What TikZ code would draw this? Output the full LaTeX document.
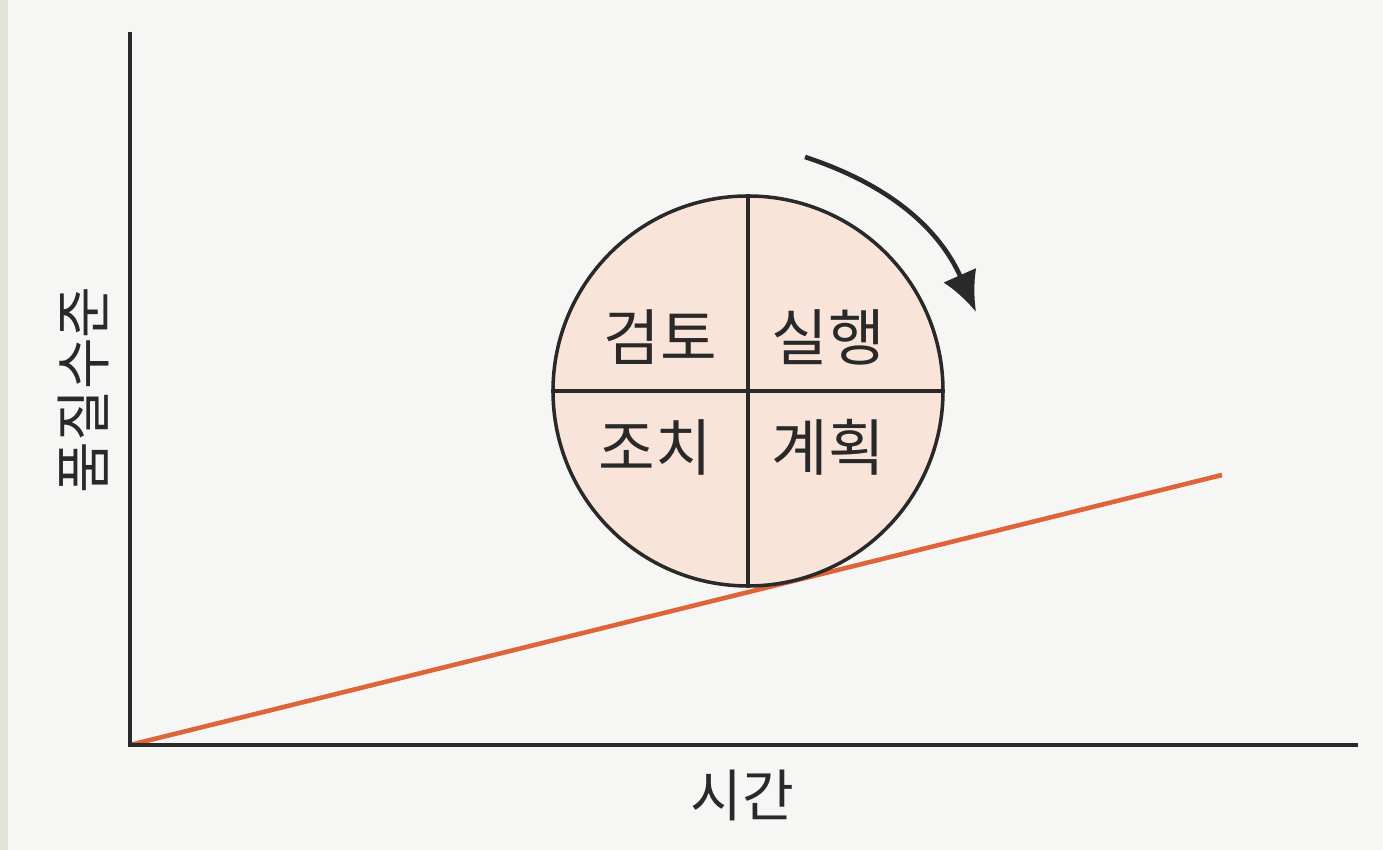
\documentclass[tikz,border=0pt]{standalone}
\usepackage{fontspec}
\setmainfont{Noto Sans CJK KR}
\usepackage{tikz}
\usetikzlibrary{arrows.meta}
\definecolor{hexcolor0xf6f6f4}{rgb}{0.965,0.965,0.957}
\definecolor{hexcolor0xe4e4d6}{rgb}{0.894,0.894,0.839}
\definecolor{hexcolor0xf9e4da}{rgb}{0.976,0.894,0.855}
\definecolor{hexcolor0xe0643a}{rgb}{0.878,0.392,0.227}
\definecolor{myblack}{rgb}{0.160,0.160,0.160}
\tikzstyle{pt}=[inner sep=0pt,minimum size=0pt]
\tikzstyle{label}=[font=\fontsize{16}{18}\selectfont,text=myblack,inner sep=0pt]
\tikzstyle{biglabel}=[font=\fontsize{17.5}{19}\selectfont,text=myblack,inner sep=0pt]
\tikzstyle{pdca}=[circle,fill=hexcolor0xf9e4da,draw=myblack,line width=1pt,minimum size=3.9cm,inner sep=0pt]

\begin{document}
\begin{tikzpicture}
	\fill[hexcolor0xf6f6f4] (0,0) rectangle (13.83,8.5);
	\fill[hexcolor0xe4e4d6] (0,0) rectangle (0.08,8.5);
	\useasboundingbox (0,0) rectangle (13.83,8.5);
		\node [style=pt] (0) at (1.30, 1.05) {};
		\node [style=pt] (1) at (1.30, 8.18) {};
		\node [style=pt] (2) at (13.58, 1.05) {};
		\node [style=pt] (3) at (12.22, 3.75) {};
		\draw [line width=1.3pt,draw=hexcolor0xe0643a] (0.center) -- (3.center);
		\node [style=pdca] (4) at (7.48, 4.59) {};
		\node [style=pt] (5) at (8.05, 6.93) {};
		\node [style=pt] (6) at (9.76, 5.38) {};
		\node [style=biglabel] (7) at (6.60, 5.13) {검토};
		\node [style=biglabel] (8) at (8.28, 5.13) {실행};
		\node [style=biglabel] (9) at (6.55, 4.03) {조치};
		\node [style=biglabel] (10) at (8.28, 4.03) {계획};
		\node [style=label,rotate=90] (11) at (0.83, 4.60) {품질수준};
		\node [style=label] (12) at (7.42, 0.55) {시간};
		\draw [line width=1pt,draw=myblack] (4.north) -- (4.south);
		\draw [line width=1pt,draw=myblack] (4.west) -- (4.east);
		\draw [line width=1.2pt,draw=myblack] (1.center) -- (0.center) -- (2.center);
		\draw [line width=1.3pt,draw=myblack,-{Latex[length=4mm,width=3.6mm]}] (5.center) to [bend left=24] (6.center);
\end{tikzpicture}
\end{document}
